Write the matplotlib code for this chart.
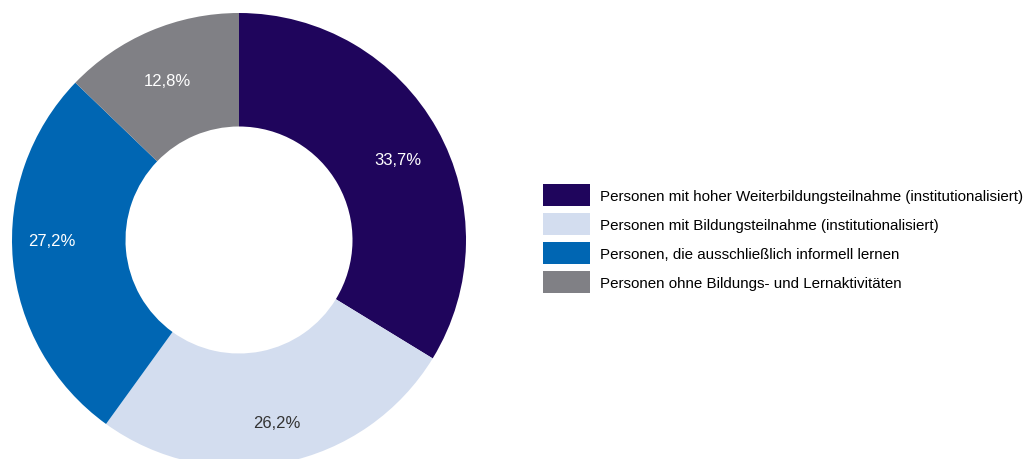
import matplotlib.pyplot as plt
from matplotlib import font_manager

labels = [
    "Personen mit hoher Weiterbildungsteilnahme (institutionalisiert)",
    "Personen mit Bildungsteilnahme (institutionalisiert)",
    "Personen, die ausschließlich informell lernen",
    "Personen ohne Bildungs- und Lernaktivitäten",
]
shares = [33.7, 26.2, 27.2, 12.8]
colors = ["#1f055c", "#d3ddef", "#0066b3", "#808085"]
text_colors = ["white", "#333333", "white", "white"]

names = {f.name for f in font_manager.fontManager.ttflist}
font = "Liberation Sans Narrow" if "Liberation Sans Narrow" in names else "Liberation Sans"
plt.rcParams["font.family"] = [font, "DejaVu Sans"]

fig = plt.figure(figsize=(10.32, 4.6), dpi=100)
ax = fig.add_axes([0, 0, 1, 1])

R = 227
wedges, texts, autotexts = ax.pie(
    shares, colors=colors, startangle=90, counterclock=False,
    center=(239, 219), radius=R,
    wedgeprops=dict(width=R * 0.5, linewidth=0),
    autopct=lambda p: f"{p:.1f}".replace(".", ",") + "%",
    pctdistance=0.79, textprops=dict(fontsize=12),
)
ax.set_xlim(0, 1032)
ax.set_ylim(0, 460)
ax.set_aspect("equal")
ax.axis("off")

# small nudges so the percentages sit where the layout wants them
nudges = [(2, -7), (3, -7), (-9, 16), (-1, -5)]
for t, c, (dx, dy) in zip(autotexts, text_colors, nudges):
    t.set_color(c)
    x, y = t.get_position()
    t.set_position((x + dx, y + dy))

fs = 10.9
px = fs * 100 / 72
hh = (22 / px - 0.245) / 0.65
ax.legend(
    wedges, labels, loc="upper left", bbox_to_anchor=(543 / 1032, 1 - 185 / 460),
    frameon=False, fontsize=fs, handlelength=47 / px, handleheight=hh,
    handletextpad=10 / px, labelspacing=7 / px, borderpad=0, borderaxespad=0,
)

fig.savefig("out.png", dpi=100)
